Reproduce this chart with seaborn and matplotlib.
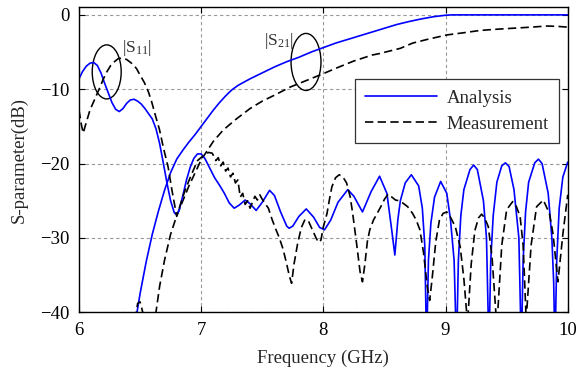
import numpy as np
import pandas as pd
import matplotlib
matplotlib.use("Agg")
import matplotlib.pyplot as plt
import seaborn as sns
from matplotlib.patches import Ellipse

# ---- S21, analysis ----
s21_ana_f = [6.47, 6.50, 6.55, 6.60, 6.65, 6.70, 6.75, 6.80, 6.85, 6.90, 6.95,
             7.00, 7.05, 7.10, 7.15, 7.20, 7.25, 7.30, 7.40, 7.50, 7.60, 7.70,
             7.80, 7.90, 8.00, 8.10, 8.20, 8.30, 8.40, 8.50, 8.60, 8.70, 8.80,
             8.90, 9.00, 9.05, 9.50, 10.0]
s21_ana_db = [-40.5, -37.5, -33.2, -29.5, -26.4, -23.6, -21.2, -19.4, -18.2, -17.1, -16.1,
              -15.0, -13.9, -12.8, -11.8, -10.9, -10.1, -9.5, -8.6, -7.8, -7.0, -6.3,
              -5.7, -5.0, -4.4, -3.8, -3.3, -2.8, -2.3, -1.8, -1.3, -0.9, -0.55,
              -0.25, -0.05, 0.0, 0.0, 0.0]

# ---- S21, measurement ----
s21_mea_f = [6.46, 6.48, 6.50, 6.53, 6.56, 6.60, 6.63, 6.66, 6.70, 6.75, 6.80,
             6.90, 7.00, 7.10, 7.18, 7.28, 7.40, 7.50, 7.60, 7.73, 7.85, 8.00,
             8.10, 8.25, 8.40, 8.46, 8.63, 8.73, 8.85, 9.01, 9.15, 9.28, 9.40,
             9.55, 9.70, 9.83, 9.92, 10.0]
s21_mea_db = [-41.0, -38.8, -38.6, -40.5, -42.0, -42.0, -40.0, -36.5, -33.0, -29.5, -27.0,
              -23.0, -19.5, -17.0, -15.5, -14.1, -12.6, -11.6, -10.8, -9.7, -8.9, -7.9,
              -7.2, -6.2, -5.4, -5.2, -4.5, -3.8, -3.3, -2.7, -2.4, -2.1, -1.95,
              -1.8, -1.65, -1.5, -1.55, -1.65]

# ---- S11, analysis ----
s11_ana_f = [6.00, 6.03, 6.06, 6.09, 6.12, 6.15, 6.18, 6.21, 6.24, 6.27, 6.30,
             6.33, 6.36, 6.39, 6.42, 6.45, 6.48, 6.51, 6.54, 6.57, 6.60, 6.63,
             6.66, 6.69, 6.72, 6.75, 6.78, 6.80, 6.82, 6.85, 6.88, 6.91, 6.94,
             6.97, 7.00, 7.03, 7.07, 7.11, 7.15, 7.19, 7.23, 7.27, 7.31, 7.36,
             7.40, 7.45, 7.50, 7.56, 7.60, 7.65, 7.70, 7.72, 7.75, 7.80, 7.86,
             7.92, 7.97, 8.01, 8.06, 8.12, 8.20, 8.25, 8.32, 8.39, 8.46, 8.52,
             8.56, 8.585, 8.61, 8.63, 8.67, 8.72, 8.78, 8.81, 8.83, 8.845, 8.86,
             8.88, 8.91, 8.96, 9.01, 9.04, 9.07, 9.09, 9.105, 9.125, 9.15, 9.20,
             9.23, 9.26, 9.31, 9.335, 9.355, 9.37, 9.39, 9.42, 9.46, 9.49, 9.52,
             9.56, 9.60, 9.62, 9.635, 9.655, 9.68, 9.73, 9.76, 9.79, 9.84, 9.87,
             9.885, 9.895, 9.91, 9.93, 9.96, 10.0]
s11_ana_db = [-8.6, -7.6, -6.9, -6.5, -6.4, -6.8, -7.8, -9.2, -10.5, -11.8, -12.7,
              -13.0, -12.6, -11.9, -11.45, -11.35, -11.6, -12.0, -12.6, -13.3, -14.0, -15.3,
              -17.3, -19.9, -22.6, -25.0, -26.6, -26.9, -26.3, -24.3, -22.2, -20.5, -19.3,
              -18.7, -18.7, -19.3, -20.6, -21.9, -22.9, -24.0, -25.3, -26.0, -25.6, -24.9,
              -25.4, -26.3, -25.2, -23.6, -24.3, -26.5, -28.4, -28.7, -28.4, -27.1, -26.1,
              -27.2, -28.6, -28.9, -27.6, -25.2, -23.5, -24.4, -26.5, -23.8, -21.7, -24.0,
              -29.0, -32.3, -27.5, -25.0, -22.6, -21.5, -23.0, -26.0, -31.0, -45.0, -33.0,
              -28.0, -24.5, -22.4, -24.0, -27.5, -33.0, -45.0, -33.0, -27.0, -23.5, -20.8,
              -20.2, -20.8, -25.0, -30.0, -45.0, -33.0, -27.0, -22.5, -20.3, -19.9, -20.4,
              -23.5, -30.0, -45.0, -33.0, -26.5, -22.5, -19.9, -19.4, -20.0, -24.0, -30.0,
              -36.0, -45.0, -33.0, -26.0, -21.8, -19.8]

# ---- S11, measurement ----
s11_mea_f = [6.00, 6.02, 6.035, 6.05, 6.07, 6.09, 6.13, 6.17, 6.20, 6.23, 6.26,
             6.29, 6.32, 6.35, 6.39, 6.43, 6.47, 6.50, 6.535, 6.567, 6.595, 6.62,
             6.66, 6.69, 6.73, 6.76, 6.80, 6.83, 6.87, 6.92, 6.97, 7.02, 7.06,
             7.09, 7.10, 7.12, 7.14, 7.16, 7.18, 7.20, 7.22, 7.24, 7.26, 7.28,
             7.30, 7.32, 7.34, 7.36, 7.38, 7.40, 7.42, 7.44, 7.46, 7.48, 7.50,
             7.52, 7.55, 7.58, 7.61, 7.64, 7.67, 7.70, 7.72, 7.74, 7.76, 7.79,
             7.82, 7.85, 7.88, 7.91, 7.94, 7.96, 7.98, 8.00, 8.03, 8.05, 8.07,
             8.10, 8.13, 8.16, 8.19, 8.22, 8.24, 8.27, 8.30, 8.32, 8.34, 8.36,
             8.38, 8.41, 8.44, 8.47, 8.50, 8.53, 8.56, 8.59, 8.62, 8.65, 8.69,
             8.73, 8.76, 8.79, 8.82, 8.85, 8.87, 8.89, 8.92, 8.95, 8.98, 9.01,
             9.04, 9.08, 9.12, 9.15, 9.18, 9.21, 9.24, 9.27, 9.295, 9.32, 9.35,
             9.38, 9.42, 9.46, 9.50, 9.55, 9.58, 9.61, 9.635, 9.66, 9.70, 9.745,
             9.80, 9.85, 9.88, 9.92, 9.96, 10.0]
s11_mea_db = [-12.8, -14.8, -15.9, -15.0, -13.9, -12.8, -11.3, -9.8, -8.6, -7.6, -6.8,
              -6.3, -5.9, -5.8, -6.0, -6.5, -7.2, -8.1, -9.1, -10.3, -11.7, -13.2,
              -15.5, -17.8, -20.5, -23.5, -27.1, -25.5, -23.5, -21.5, -19.6, -18.9, -18.5,
              -18.6, -18.9, -19.6, -19.2, -20.3, -19.8, -21.0, -20.6, -21.8, -21.3, -22.6,
              -22.2, -24.5, -24.0, -25.5, -25.0, -26.0, -25.2, -24.4, -24.9, -24.2, -24.8,
              -25.3, -26.0, -27.5, -28.8, -30.0, -31.5, -33.5, -35.0, -36.1, -33.5, -30.7,
              -28.6, -27.5, -27.8, -28.9, -30.0, -30.6, -30.3, -28.5, -26.7, -24.8, -23.1,
              -21.9, -21.5, -21.8, -22.6, -24.5, -26.7, -30.5, -34.5, -35.9, -33.5, -30.5,
              -28.9, -27.6, -26.7, -25.8, -24.8, -24.1, -24.5, -24.9, -25.0, -25.3, -25.8,
              -26.7, -27.6, -28.9, -32.0, -36.5, -38.4, -35.5, -30.5, -27.6, -26.7, -26.5,
              -27.2, -28.5, -31.2, -35.5, -41.5, -33.5, -29.0, -27.3, -26.8, -27.3, -28.5,
              -32.5, -42.0, -31.0, -26.2, -25.1, -25.8, -27.1, -31.0, -41.0, -31.0, -25.8,
              -24.9, -26.7, -29.5, -35.9, -29.5, -24.2]

x_ticks = [6, 7, 8, 9, 10]
y_ticks = [-40, -30, -20, -10, 0]

sns.set_theme(style="ticks")
plt.rcParams["font.family"] = ["Liberation Serif", "DejaVu Serif"]
plt.rcParams["mathtext.fontset"] = "custom"
plt.rcParams["mathtext.rm"] = "Liberation Serif"
plt.rcParams["mathtext.it"] = "Liberation Serif:italic"

fs = 13.5

fig = plt.figure(figsize=(5.85, 3.72), dpi=100)
ax = fig.add_axes([0.135, 0.1605, 0.8355, 0.8195])

blue = "#0000ff"
dash = (0, (5.0, 2.6))
lw = 1.2

sns.lineplot(x=s21_ana_f, y=s21_ana_db, ax=ax, color=blue, lw=lw, sort=False, estimator=None)
sns.lineplot(x=s21_mea_f, y=s21_mea_db, ax=ax, color="black", lw=lw, linestyle=dash,
             sort=False, estimator=None)
sns.lineplot(x=s11_ana_f, y=s11_ana_db, ax=ax, color=blue, lw=lw, sort=False, estimator=None)
sns.lineplot(x=s11_mea_f, y=s11_mea_db, ax=ax, color="black", lw=lw, linestyle=dash,
             sort=False, estimator=None)

h_ana = ax.lines[2]
h_mea = ax.lines[3]

ax.set_xlim(6, 10)
ax.set_ylim(-40, 1.0)
ax.set_xticks(x_ticks)
ax.set_yticks(y_ticks)
ax.grid(True, color="#999999", linestyle=(0, (3, 2.5)), linewidth=0.8)
ax.tick_params(direction="in", top=True, right=True, length=4, width=0.8,
               labelsize=fs, colors="black")
ax.tick_params(axis="x", pad=7)
ax.tick_params(axis="y", pad=7)
for s in ax.spines.values():
    s.set_color("black")
    s.set_linewidth(1.0)

ax.set_xlabel("Frequency (GHz)", fontsize=fs, labelpad=8)
ax.set_ylabel("S-parameter(dB)", fontsize=fs, labelpad=9)

# group markers
ax.add_patch(Ellipse((6.227, -7.67), 0.237, 7.27, fill=False, edgecolor="black", lw=1.0))
ax.add_patch(Ellipse((7.858, -6.33), 0.245, 7.67, fill=False, edgecolor="black", lw=1.0))
ax.text(6.35, -4.4, r"|S$_{11}$|", fontsize=12.5, color="#333333", ha="left", va="center")
ax.text(7.515, -3.5, r"|S$_{21}$|", fontsize=12.5, color="#333333", ha="left", va="center")

leg = ax.legend([h_ana, h_mea], ["Analysis", "Measurement"], loc="upper right",
                bbox_to_anchor=(0.982, 0.765), borderaxespad=0, fontsize=fs,
                handlelength=3.85, handletextpad=0.5, frameon=True, fancybox=False,
                framealpha=1, edgecolor="#333333", borderpad=0.55, labelspacing=0.5)
leg.get_frame().set_linewidth(0.9)

fig.savefig("out.png", dpi=100)
